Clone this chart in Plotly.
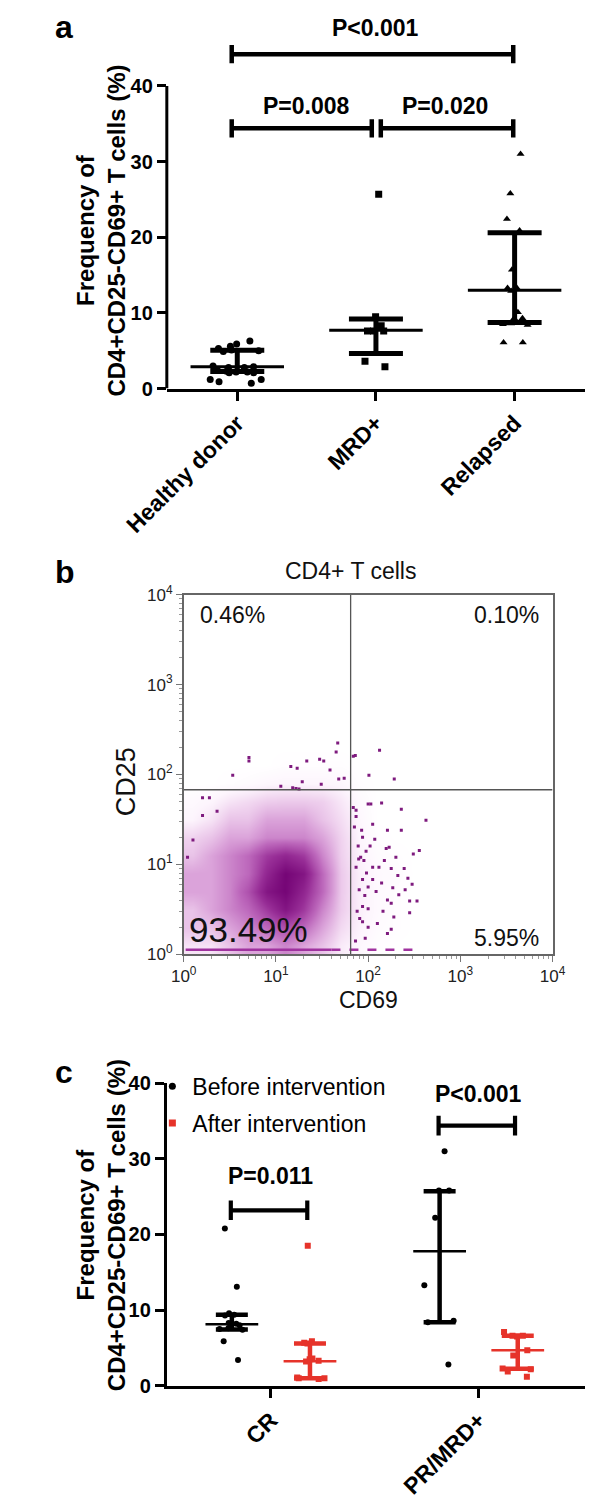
import plotly.graph_objects as go

FONT = "Liberation Sans, Arial, Helvetica, sans-serif"
RED = "#e6332a"
PURPLE = "#7e1a7e"
W, H = 600, 1504
OFF_PX = 8  # default page margin of the written html


def px2x(px):
    return (px - OFF_PX) / W


def px2y(py):
    return 1 - (py - OFF_PX) / H


# ---------------- Panel a data ----------------
a_groups = ["Healthy donor", "MRD+", "Relapsed"]
a_healthy = [6.3, 5.9, 5.6, 5.3, 5.1, 5.0, 4.9, 3.0, 2.9, 2.8, 2.8, 2.4, 2.3, 2.2,
             2.2, 2.1, 2.1, 1.2, 1.2, 0.9, 0.7]
a_mrd = [25.7, 9.5, 8.3, 7.6, 7.6, 7.6, 3.6, 2.9]
a_relapsed = [31.0, 25.8, 22.4, 20.9, 15.7, 13.3, 13.3, 12.9, 10.1, 9.3, 9.3,
              8.6, 8.5, 8.4, 6.1, 6.1]
a_median = [2.9, 7.7, 13.0]
a_q1 = [2.25, 4.65, 8.75]
a_q3 = [5.05, 9.2, 20.6]
a_pairs = [(0, 2), (0, 1), (1, 2)]
a_bracket_level = [44.2, 34.4, 34.4]
a_bracket_text = ["P<0.001", "P=0.008", "P=0.020"]
a_text_level = [47.6, 37.4, 37.4]
a_yticks = [0, 10, 20, 30, 40]

# ---------------- Panel b data ----------------
b_cd69_bin_log = [0.0, 0.2, 0.4, 0.6, 0.8, 1.0, 1.2, 1.4, 1.6, 1.8, 2.0, 2.2, 2.4, 2.6]
b_cd25_bin_log = [0.0, 0.2, 0.4, 0.6, 0.8, 1.0, 1.2, 1.4, 1.6, 1.8, 2.0, 2.2, 2.4]
b_density = [
    [1.0, 1.0, 2.0, 3.0, 3.0, 4.0, 3.0, 2.0, 0.8, 0.4, 0.1, 0.0, 0.0],
    [2.0, 2.0, 3.0, 4.0, 5.0, 6.0, 5.0, 3.0, 1.3, 0.6, 0.2, 0.1, 0.0],
    [2.0, 3.0, 4.0, 5.0, 7.0, 9.0, 7.0, 4.0, 1.7, 0.7, 0.3, 0.1, 0.0],
    [3.0, 3.0, 4.0, 6.0, 9.0, 10.0, 8.0, 5.0, 1.8, 0.7, 0.3, 0.1, 0.0],
    [3.0, 3.0, 4.0, 5.0, 8.0, 10.0, 9.0, 5.0, 1.8, 0.7, 0.3, 0.2, 0.0],
    [2.0, 3.0, 4.0, 5.0, 7.0, 8.0, 7.0, 4.0, 1.6, 0.6, 0.2, 0.1, 0.0],
    [1.5, 2.0, 3.0, 3.0, 4.0, 4.0, 4.0, 3.0, 1.5, 0.5, 0.1, 0.0, 0.0],
    [0.5, 1.0, 2.0, 2.0, 3.0, 3.0, 3.0, 2.0, 1.2, 0.4, 0.0, 0.0, 0.0],
    [0.3, 0.5, 1.0, 1.3, 1.7, 1.8, 1.8, 1.6, 0.9, 0.3, 0.0, 0.0, 0.0],
    [0.0, 0.0, 0.1, 0.2, 0.4, 0.5, 0.5, 0.5, 0.4, 0.1, 0.0, 0.0, 0.0],
    [0.0, 0.0, 0.0, 0.0, 0.0, 0.1, 0.1, 0.1, 0.1, 0.0, 0.0, 0.0, 0.0],
    [0.0, 0.0, 0.0, 0.0, 0.0, 0.0, 0.0, 0.0, 0.0, 0.0, 0.0, 0.0, 0.0],
]
b_sparse_cd69 = [46.8, 45, 133, 72.6, 5.1, 5.1, 29.8, 33, 21.6, 14.5, 17, 38.6, 3.4,
                 102, 192, 19.3, 48, 55, 11.3, 15.2, 16.5, 17.8, 31, 69,
                 424, 229, 140, 100, 107, 74, 112, 162, 229, 359, 309, 157, 169,
                 112, 131, 178, 246, 252, 282, 339, 282, 162, 178, 112, 100, 87,
                 100, 126, 162, 178, 87, 100, 93, 69, 74, 87, 74, 87, 80,
                 1.6, 1.9, 1.6, 2.3, 1.26, 1.1,
                 71, 78, 83, 90, 95, 118, 150, 200, 210, 270, 300, 76, 81, 92,
                 105, 122, 145, 190, 215, 73, 79, 85, 96, 140, 185]
b_sparse_cd25 = [224, 178, 186, 163, 155, 141, 148, 141, 141, 123, 117, 112, 98,
                 98, 89, 83, 89, 91, 74, 71, 70, 69, 78, 160,
                 31, 41, 48, 47, 47, 40, 28, 24, 24, 14.3, 13, 15, 15.5,
                 9.3, 9.3, 9.0, 9.0, 5.2, 3.9, 3.9, 2.9, 4.0, 3.7, 6.8, 5.6, 3.4,
                 3.2, 2.2, 1.7, 1.9, 2.3, 2.0, 1.5, 43, 34, 20, 9.3, 6.8, 5.2,
                 55, 55, 35, 39, 18.6, 12,
                 26, 16, 12, 11, 14, 19, 11, 12, 7.5, 7.0, 6.0, 3.0, 2.5, 4.5,
                 16, 5.0, 3.0, 2.6, 4.6, 1.4, 11.5, 24, 8.0, 6.2, 5.5]
b_baseline_cd69 = [1.05, 40, 350]
b_baseline_cd25 = 1.12
b_gate_cd69 = 64.6
b_gate_cd25 = 67.6
b_quadrant_text = ["0.46%", "0.10%", "93.49%", "5.95%"]
b_tick_exp = [0, 1, 2, 3, 4]

# ---------------- Panel c data ----------------
c_groups = ["CR", "PR/MRD+"]
c_before = [
    [20.8, 13.1, 9.6, 9.4, 9.3, 8.3, 8.2, 8.1, 8.0, 7.6, 7.5, 7.4, 5.9, 3.4],
    [31.0, 25.8, 25.8, 22.2, 13.3, 8.6, 8.4, 2.8],
]
c_after = [
    [18.5, 5.9, 5.7, 5.6, 3.6, 3.5, 3.3, 3.2, 1.1, 1.0, 1.0, 0.9],
    [7.1, 6.6, 6.6, 6.5, 4.7, 4.0, 2.3, 2.2, 1.9, 1.2],
]
c_before_median = [8.15, 17.8]
c_before_q1 = [7.45, 8.4]
c_before_q3 = [9.4, 25.7]
c_after_median = [3.25, 4.7]
c_after_q1 = [1.0, 2.25]
c_after_q3 = [5.6, 6.6]
c_bracket_level = [23.2, 34.4]
c_bracket_text = ["P=0.011", "P<0.001"]
c_text_level = [27.7, 38.6]
c_yticks = [0, 10, 20, 30, 40]

fig = go.Figure()


def bracket_xy(x0, x1, y, h):
    return ([x0, x0, None, x0, x1, None, x1, x1],
            [y - h, y + h, None, y, y, None, y - h, y + h])


def strip(xpos, vals, width, symbol, color, size, xa, ya, jitter=1.0):
    return go.Box(x=[xpos] * len(vals), y=vals, orientation="v",
                  boxpoints="all", jitter=jitter, pointpos=0, width=width,
                  line=dict(width=0, color="rgba(0,0,0,0)"),
                  fillcolor="rgba(0,0,0,0)", whiskerwidth=0,
                  marker=dict(symbol=symbol, size=size, color=color),
                  xaxis=xa, yaxis=ya, showlegend=False, hoverinfo="y")


# ---------------- Panel a traces ----------------
a_series = [a_healthy, a_mrd, a_relapsed]
a_symbols = ["circle", "square", "triangle-up"]
a_widths = [0.5, 0.25, 0.25]
for i, vals in enumerate(a_series):
    fig.add_trace(strip(i, vals, a_widths[i], a_symbols[i], "black", 7, "x", "y"))

fig.add_trace(go.Scatter(
    x=list(range(len(a_groups))), y=a_median, mode="markers",
    marker=dict(size=1, color="rgba(0,0,0,0)"),
    error_x=dict(type="constant", value=0.337, thickness=3, width=0, color="black"),
    error_y=dict(type="data", symmetric=False,
                 array=[q - m for q, m in zip(a_q3, a_median)],
                 arrayminus=[m - q for m, q in zip(a_median, a_q1)],
                 thickness=5, width=27, color="black"),
    xaxis="x", yaxis="y", showlegend=False, hoverinfo="skip"))

for k, (i, j) in enumerate(a_pairs):
    x0 = i - 0.04 if i == 0 else i + 0.035
    x1 = j - 0.03 if j == 1 else j - 0.01
    bx, by = bracket_xy(x0, x1, a_bracket_level[k], 1.2)
    fig.add_trace(go.Scatter(x=bx, y=by, mode="lines",
                             line=dict(color="black", width=4.5),
                             xaxis="x", yaxis="y", showlegend=False,
                             hoverinfo="skip"))

# ---------------- Panel b traces ----------------
fig.add_trace(go.Heatmap(
    x=[10 ** v for v in b_cd69_bin_log], y=[10 ** v for v in b_cd25_bin_log],
    z=b_density, zmin=0, zmax=10, zsmooth="best", showscale=False,
    colorscale=[[0, "#ffffff"], [0.05, "#fdf5fd"], [0.15, "#f0d3ef"],
                [0.3, "#dba3da"], [0.5, "#bd68bc"], [0.75, "#982e97"],
                [1, "#760677"]],
    xaxis="x2", yaxis="y2", hoverinfo="skip"))
fig.add_trace(go.Scatter(x=b_sparse_cd69, y=b_sparse_cd25, mode="markers",
                         marker=dict(size=3, color=PURPLE, symbol="square"),
                         xaxis="x2", yaxis="y2", showlegend=False))
fig.add_trace(go.Scatter(x=b_baseline_cd69[:2], y=[b_baseline_cd25] * 2,
                         mode="lines", line=dict(color="#a0339f", width=2.5),
                         xaxis="x2", yaxis="y2", showlegend=False))
fig.add_trace(go.Scatter(x=b_baseline_cd69[1:], y=[b_baseline_cd25] * 2,
                         mode="lines", line=dict(color="#a0339f", width=2.5, dash="dash"),
                         xaxis="x2", yaxis="y2", showlegend=False))
fig.add_trace(go.Scatter(x=[b_gate_cd69, b_gate_cd69], y=[1, 10 ** 4], mode="lines",
                         line=dict(color="#555555", width=1.3),
                         xaxis="x2", yaxis="y2", showlegend=False))
fig.add_trace(go.Scatter(x=[1, 10 ** 4], y=[b_gate_cd25, b_gate_cd25], mode="lines",
                         line=dict(color="#555555", width=1.3),
                         xaxis="x2", yaxis="y2", showlegend=False))

# ---------------- Panel c traces ----------------
OFF = 0.188
for i in range(len(c_groups)):
    fig.add_trace(strip(i - OFF, c_before[i], 0.2, "circle", "black", 6, "x3", "y3", 0.9))
    fig.add_trace(strip(i + OFF, c_after[i], 0.2, "square", RED, 6, "x3", "y3", 0.9))

for med, q1, q3, off, col in [(c_before_median, c_before_q1, c_before_q3, -OFF, "black"),
                              (c_after_median, c_after_q1, c_after_q3, OFF, RED)]:
    fig.add_trace(go.Scatter(
        x=[i + off for i in range(len(c_groups))], y=med, mode="markers",
        marker=dict(size=1, color="rgba(0,0,0,0)"),
        error_x=dict(type="constant", value=0.127, thickness=2.5, width=0, color=col),
        error_y=dict(type="data", symmetric=False,
                     array=[b - a for b, a in zip(q3, med)],
                     arrayminus=[a - b for a, b in zip(med, q1)],
                     thickness=4.5, width=16, color=col),
        xaxis="x3", yaxis="y3", showlegend=False, hoverinfo="skip"))

for i in range(len(c_groups)):
    bx, by = bracket_xy(i - OFF - 0.005, i + OFF - 0.013, c_bracket_level[i], 1.3)
    fig.add_trace(go.Scatter(x=bx, y=by, mode="lines",
                             line=dict(color="black", width=4.2),
                             xaxis="x3", yaxis="y3", showlegend=False,
                             hoverinfo="skip"))

# legend entries
fig.add_trace(go.Scatter(x=[None], y=[None], mode="markers", name="Before intervention",
                         marker=dict(color="black", size=7, symbol="circle"),
                         legendgroup="before", xaxis="x3", yaxis="y3"))
fig.add_trace(go.Scatter(x=[None], y=[None], mode="markers", name="After intervention",
                         marker=dict(color=RED, size=7, symbol="square"),
                         legendgroup="after", xaxis="x3", yaxis="y3"))

# ---------------- Annotations ----------------
ann = []
bold = dict(family=FONT, size=23, color="black", weight="bold")
for k, (i, j) in enumerate(a_pairs):
    ann.append(dict(x=(i + j) / 2, y=a_text_level[k], xref="x", yref="y",
                    text=a_bracket_text[k], showarrow=False, font=bold,
                    xanchor="center", yanchor="middle"))
for i in range(len(c_groups)):
    ann.append(dict(x=i, y=c_text_level[i], xref="x3", yref="y3",
                    text=c_bracket_text[i], showarrow=False, font=bold,
                    xanchor="center", yanchor="middle"))

ytitle = "Frequency of<br>CD4+CD25-CD69+ T cells (%)"
for cy in (222, 1232):
    ann.append(dict(x=px2x(61), y=px2y(cy), xref="paper", yref="paper",
                    text=ytitle, textangle=-90, showarrow=False,
                    xanchor="center", yanchor="middle",
                    font=dict(family=FONT, size=24, color="black", weight="bold")))

for lab, py in zip(["a", "b", "c"], [15, 569, 1076]):
    ann.append(dict(x=0, y=px2y(py), xref="paper", yref="paper",
                    text=lab, showarrow=False, xanchor="left", yanchor="middle",
                    font=dict(family=FONT, size=32, color="black", weight="bold")))

ann.append(dict(x=px2x(337), y=px2y(568), xref="paper", yref="paper",
                text="CD4+ T cells", showarrow=False, xanchor="center", yanchor="middle",
                font=dict(family=FONT, size=23, color="#111111")))
ann.append(dict(x=px2x(89), y=px2y(782), xref="paper", yref="paper",
                text="CD25", textangle=-90, showarrow=False,
                xanchor="center", yanchor="middle",
                font=dict(family=FONT, size=27, color="#111111")))
ann.append(dict(x=px2x(357), y=px2y(1003), xref="paper", yref="paper",
                text="CD69", showarrow=False, xanchor="center", yanchor="middle",
                font=dict(family=FONT, size=23, color="#111111")))
qpos = [(0.04, 0.944, "left", 23), (0.968, 0.944, "right", 23),
        (0.008, 0.07, "left", 35), (0.968, 0.046, "right", 23)]
for txt, (qx, qy, anc, sz) in zip(b_quadrant_text, qpos):
    ann.append(dict(x=qx, y=qy, xref="x2 domain", yref="y2 domain", text=txt,
                    xanchor=anc, yanchor="middle", showarrow=False,
                    font=dict(family=FONT, size=sz, color="#111111")))

# ---------------- Layout ----------------
tick_bold = dict(family=FONT, size=20, color="black", weight="bold")
cat_bold = dict(family=FONT, size=23, color="black", weight="bold")
b_tickvals = [10 ** e for e in b_tick_exp]
b_ticktext = ["10<sup>%d</sup>" % e for e in b_tick_exp]
b_minor = [m * 10 ** e for e in b_tick_exp[:-1] for m in range(2, 10)]

a_px_per_unit = (382.3 - 75) / 40
a_ytop = (382.3 - OFF_PX) / a_px_per_unit

fig.update_layout(
    width=W, height=H, margin=dict(l=0, r=0, t=0, b=0),
    paper_bgcolor="white", plot_bgcolor="white", hovermode=False,
    font=dict(family=FONT, color="black"),
    annotations=ann,
    shapes=[dict(type="line", xref="x domain", yref="y", x0=0, x1=0, y0=0, y1=40,
                 line=dict(color="black", width=3))],
    legend=dict(x=px2x(118), y=px2y(1069), xanchor="left", yanchor="top",
                font=dict(family=FONT, size=23, color="black"),
                bgcolor="rgba(0,0,0,0)", tracegroupgap=4, itemsizing="trace",
                traceorder="grouped"),
    xaxis=dict(domain=[px2x(134), px2x(597)], range=[-0.508, 2.508], anchor="y",
               tickmode="array", tickvals=[0, 1, 2], ticktext=a_groups,
               tickangle=-45, tickfont=cat_bold, showline=True, linewidth=3,
               linecolor="black", ticks="outside", ticklen=9, tickwidth=3,
               tickcolor="black", showgrid=False, zeroline=False),
    yaxis=dict(domain=[px2y(382.3), 1.0], range=[0, a_ytop], anchor="x",
               tickmode="array", tickvals=a_yticks, tickfont=tick_bold,
               showline=False, ticks="outside", ticklen=9, tickwidth=3,
               tickcolor="black", showgrid=False, zeroline=False),
    xaxis2=dict(domain=[px2x(152.7), px2x(561)], type="log", range=[0, 4], anchor="y2",
                tickmode="array", tickvals=b_tickvals, ticktext=b_ticktext,
                tickfont=dict(family=FONT, size=17, color="#222222"),
                showline=True, mirror=True, linewidth=1.5, linecolor="#666666",
                ticks="outside", ticklen=6, tickcolor="#777777",
                minor=dict(tickmode="array", tickvals=b_minor, ticks="outside",
                           ticklen=3, tickcolor="#999999"),
                showgrid=False, zeroline=False),
    yaxis2=dict(domain=[px2y(956.7), px2y(591.7)], type="log", range=[0, 4], anchor="x2",
                tickmode="array", tickvals=b_tickvals, ticktext=b_ticktext,
                tickfont=dict(family=FONT, size=17, color="#222222"),
                showline=True, mirror=True, linewidth=1.5, linecolor="#666666",
                ticks="outside", ticklen=6, tickcolor="#777777",
                minor=dict(tickmode="array", tickvals=b_minor, ticks="outside",
                           ticklen=3, tickcolor="#999999"),
                showgrid=False, zeroline=False),
    xaxis3=dict(domain=[px2x(134), px2x(597)], range=[-0.501, 1.512], anchor="y3",
                tickmode="array", tickvals=[0, 1], ticktext=c_groups,
                tickangle=-45, tickfont=cat_bold, showline=True, linewidth=3,
                linecolor="black", ticks="outside", ticklen=9, tickwidth=3,
                tickcolor="black", showgrid=False, zeroline=False),
    yaxis3=dict(domain=[px2y(1395), px2y(1087.7)], range=[0, 40], anchor="x3",
                tickmode="array", tickvals=c_yticks, tickfont=tick_bold,
                showline=True, linewidth=3, linecolor="black",
                ticks="outside", ticklen=9, tickwidth=3,
                tickcolor="black", showgrid=False, zeroline=False),
)

fig.write_html("out.html")
